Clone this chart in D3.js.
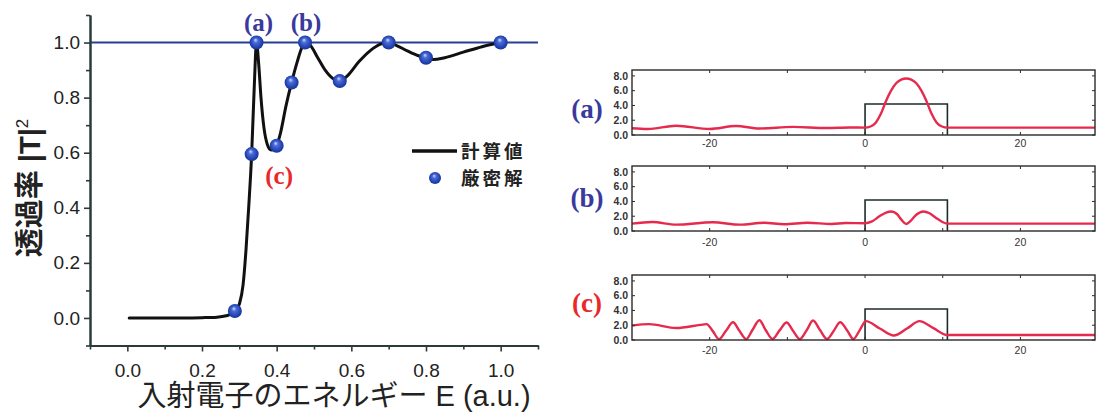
<!DOCTYPE html>
<html>
<head>
<meta charset="utf-8">
<script src="https://cdn.jsdelivr.net/npm/d3@7"></script>
<style>
  body { margin: 0; background: #fff; }
  svg { display: block; }
</style>
</head>
<body>
<svg id="chart" width="1097" height="414"></svg>
<script>
// ---- Transmission |T|^2 versus incident electron energy ----
const energyCurve = [0.005, 0.05, 0.10, 0.15, 0.20, 0.24, 0.265, 0.28, 0.29, 0.30, 0.31, 0.318, 0.325, 0.333, 0.340, 0.346,
  0.352, 0.358, 0.366, 0.375, 0.385, 0.394, 0.40, 0.41, 0.425, 0.44, 0.455, 0.467, 0.478, 0.49, 0.51, 0.53, 0.55, 0.569,
  0.59, 0.62, 0.65, 0.68, 0.70, 0.72, 0.75, 0.78, 0.80, 0.82, 0.85, 0.90, 0.95, 1.00];
const transCurve = [0, 0, 0, 0, 0.001, 0.003, 0.008, 0.015, 0.025, 0.05, 0.12, 0.25, 0.40, 0.595, 0.84, 1.0,
  0.92, 0.80, 0.69, 0.63, 0.61, 0.612, 0.625, 0.67, 0.77, 0.855, 0.93, 0.98, 1.0, 0.99, 0.945, 0.90, 0.87, 0.86,
  0.88, 0.93, 0.97, 0.995, 1.0, 0.99, 0.97, 0.952, 0.943, 0.938, 0.945, 0.965, 0.985, 1.0];

// exact solutions
const energyExact = [0.288, 0.333, 0.346, 0.40, 0.44, 0.476, 0.569, 0.70, 0.80, 1.00];
const transExact  = [0.025, 0.595, 1.0, 0.625, 0.855, 1.0, 0.86, 1.0, 0.945, 1.0];

const majorTicks = [0.0, 0.2, 0.4, 0.6, 0.8, 1.0];
const minorTicks = [-0.1, 0.1, 0.3, 0.5, 0.7, 0.9, 1.1];
const refLevel = 1.0;

const legendNames = ["計算値", "厳密解"];
const caseNames = ["(a)", "(b)", "(c)"];
const caseEnergy = [0.346, 0.476, 0.40];
const caseTrans  = [1.0, 1.0, 0.625];

// ---- Probability density |psi(x)|^2 for the three cases ----
const posA  = [-30, -28, -24.3, -20, -16.6, -13.6, -9.3, -5, -2, 0, 0.7, 1.4, 2.05, 2.7, 3.35, 4.0, 4.65, 5.3,
  5.95, 6.6, 7.25, 7.9, 8.55, 9.2, 9.9, 10.6, 15, 20, 29.6];
const densA = [0.92, 0.82, 1.25, 0.82, 1.22, 0.88, 1.1, 0.95, 1.02, 1.0, 1.15, 1.7, 2.9, 4.6, 6.0, 7.0, 7.5, 7.65,
  7.5, 7.0, 6.0, 4.6, 2.9, 1.7, 1.15, 1.0, 1.0, 1.0, 1.0];

const posB  = [-30, -27.4, -24.3, -19.6, -16.1, -13, -10.4, -7.4, -4.3, -2.5, 0, 0.9, 1.8, 2.7, 3.4, 4.1, 4.7, 5.3,
  5.9, 6.6, 7.5, 8.3, 9.1, 9.9, 10.6, 15, 20, 29.6];
const densB = [1.0, 1.22, 0.86, 1.18, 0.86, 1.12, 0.92, 1.12, 0.95, 1.08, 1.05, 1.3, 1.95, 2.5, 2.65, 2.3, 1.5, 0.95,
  1.4, 2.2, 2.65, 2.4, 1.8, 1.25, 1.0, 1.0, 1.0, 1.0];

const posC  = [-30, -27.8, -24.3, -21.2, -20.4, -19.6, -18.8, -17.9, -17.0, -16.2, -15.3, -14.5, -13.6, -12.8, -11.9, -11.0,
  -10.1, -9.3, -8.4, -7.5, -6.7, -5.8, -4.9, -4.0, -3.2, -2.3, -1.5, -0.7, 0.1, 1.9, 3.7, 5.4, 7.0, 8.8, 10.6, 15, 20, 29.6];
const densC = [1.95, 2.15, 1.62, 2.05, 2.15, 1.2, 0.12, 1.25, 2.4, 1.3, 0.12, 1.35, 2.68, 1.35, 0.14, 1.3,
  2.36, 1.3, 0.12, 1.35, 2.64, 1.35, 0.14, 1.3, 2.4, 1.3, 0.14, 1.3, 2.55, 1.55, 0.6, 1.55, 2.55, 1.6, 0.68, 0.68, 0.68, 0.68];

const barrierPos = [0, 0, 10.6, 10.6];
const barrierPot = [0, 4.2, 4.2, 0];

const panelXTicks = [-20, -10, 0, 10, 20];
const panelXLabels = [-20, 0, 20];
const panelYTicks = [0, 2, 4, 6, 8];

const svg = d3.select("#chart");
const latin = "'Liberation Sans', Arial, 'Noto Sans CJK JP', sans-serif";
const axisColor = "#2d3a3a";

const defs = svg.append("defs");
const grad = defs.append("radialGradient").attr("id", "ball")
  .attr("cx", "50%").attr("cy", "50%").attr("r", "55%").attr("fx", "42%").attr("fy", "30%");
grad.append("stop").attr("offset", "0").attr("stop-color", "#d4defc");
grad.append("stop").attr("offset", "0.3").attr("stop-color", "#4a6ad6");
grad.append("stop").attr("offset", "0.75").attr("stop-color", "#2143b2");
grad.append("stop").attr("offset", "1").attr("stop-color", "#152d86");

// ================= left chart =================
const x = d3.scaleLinear().domain([-0.1, 1.1]).range([90, 538]);
const y = d3.scaleLinear().domain([-0.1, 1.1]).range([345.5, 15]);

const gL = svg.append("g");

// reference line at |T|^2 = 1
gL.append("line")
  .attr("x1", x(-0.1)).attr("x2", x(1.1))
  .attr("y1", y(refLevel)).attr("y2", y(refLevel))
  .attr("stroke", "#283f98").attr("stroke-width", 2);

function styleAxis(g) {
  g.select(".domain").attr("stroke", axisColor).attr("stroke-width", 2);
  g.selectAll(".tick line").attr("stroke", axisColor).attr("stroke-width", 1.6);
  g.selectAll(".tick text").attr("fill", "#222").attr("font-family", latin).attr("font-size", 19);
}

// x axis: minor ticks, then labelled major ticks
gL.append("g").attr("transform", `translate(0,${y(-0.1)})`)
  .call(d3.axisBottom(x).tickValues(minorTicks).tickSize(4).tickSizeOuter(0).tickFormat(""))
  .call(styleAxis);
gL.append("g").attr("transform", `translate(0,${y(-0.1)})`)
  .call(d3.axisBottom(x).tickValues(majorTicks).tickSize(6).tickSizeOuter(0).tickPadding(12).tickFormat(d3.format(".1f")))
  .call(styleAxis);

gL.append("g").attr("transform", `translate(${x(-0.1)},0)`)
  .call(d3.axisLeft(y).tickValues(minorTicks).tickSize(4).tickSizeOuter(0).tickFormat(""))
  .call(styleAxis);
gL.append("g").attr("transform", `translate(${x(-0.1)},0)`)
  .call(d3.axisLeft(y).tickValues(majorTicks).tickSize(6).tickSizeOuter(0).tickPadding(4).tickFormat(d3.format(".1f")))
  .call(styleAxis);

// computed curve
const curvePts = energyCurve.map((e, i) => [e, transCurve[i]]);
gL.append("path")
  .datum(curvePts)
  .attr("d", d3.line().x(d => x(d[0])).y(d => y(d[1])).curve(d3.curveMonotoneX))
  .attr("fill", "none").attr("stroke", "#111").attr("stroke-width", 3)
  .attr("stroke-linejoin", "round").attr("stroke-linecap", "round");

// exact points
gL.selectAll("circle.exact")
  .data(energyExact.map((e, i) => [e, transExact[i]]))
  .join("circle").attr("class", "exact")
  .attr("cx", d => x(d[0])).attr("cy", d => y(d[1])).attr("r", 7)
  .attr("fill", "url(#ball)");

// case labels on the curve
const caseDx = [2, 1, 2.5];
const caseDy = [-12, -12, 38];
const caseColor = ["#3a3a9c", "#3a3a9c", "#e8282b"];
caseNames.forEach((name, i) => {
  gL.append("text")
    .attr("x", x(caseEnergy[i]) + caseDx[i])
    .attr("y", y(caseTrans[i]) + caseDy[i])
    .attr("text-anchor", "middle")
    .attr("font-family", "'Liberation Serif', 'Times New Roman', serif")
    .attr("font-weight", "bold").attr("font-size", 25)
    .attr("fill", caseColor[i])
    .text(name);
});

// axis titles
gL.append("text")
  .attr("x", 334).attr("y", 406)
  .attr("text-anchor", "middle")
  .attr("font-family", latin).attr("font-size", 29).attr("fill", "#222")
  .text("入射電子のエネルギー E (a.u.)");

const yTitle = gL.append("text")
  .attr("transform", "translate(40,188) rotate(-90)")
  .attr("text-anchor", "middle")
  .attr("font-family", latin).attr("font-size", 29).attr("font-weight", "bold").attr("fill", "#222");
yTitle.append("tspan").text("透過率 |T|");
yTitle.append("tspan").attr("font-size", 17).attr("dy", -12).attr("font-weight", "normal").text("2");

// legend
const lg = gL.append("g");
lg.append("line").attr("x1", 412).attr("x2", 457).attr("y1", 151).attr("y2", 151)
  .attr("stroke", "#111").attr("stroke-width", 3.5);
lg.append("circle").attr("cx", 435).attr("cy", 178).attr("r", 6).attr("fill", "url(#ball)");
legendNames.forEach((t, i) => {
  lg.append("text").attr("x", 461).attr("y", 151 + i * 27).attr("dy", "0.36em")
    .attr("font-family", "'Noto Sans CJK JP', sans-serif").attr("font-weight", "bold")
    .attr("font-size", 18.5).attr("letter-spacing", 3).attr("fill", "#222").text(t);
});

// ================= right panels =================
const px = d3.scaleLinear().domain([-30, 29.6]).range([632, 1095]);
const panelTop = [70, 166, 275];
const panelH = 65;
const panelLabelY = [118, 207, 312];
const panelTickLabelY = [147, 246, 354];
const panelLabelColor = ["#3a3a9c", "#3a3a9c", "#e8282b"];
const panelData = [[posA, densA], [posB, densB], [posC, densC]];

panelData.forEach(([pos, dens], i) => {
  const top = panelTop[i];
  const py = d3.scaleLinear().domain([0, 8.8]).range([top + panelH, top]);
  const g = svg.append("g");

  // barrier outline
  g.append("path")
    .datum(barrierPos.map((p, k) => [p, barrierPot[k]]))
    .attr("d", d3.line().x(d => px(d[0])).y(d => py(d[1])))
    .attr("fill", "none").attr("stroke", "#1e2b2b").attr("stroke-width", 1.6);

  // density curve
  g.append("path")
    .datum(pos.map((p, k) => [p, dens[k]]))
    .attr("d", d3.line().x(d => px(d[0])).y(d => py(d[1])).curve(d3.curveMonotoneX))
    .attr("fill", "none").attr("stroke", "#e52a4e").attr("stroke-width", 2.4)
    .attr("stroke-linejoin", "round");

  // frame
  g.append("rect")
    .attr("x", px(-30)).attr("y", top)
    .attr("width", px(29.6) - px(-30)).attr("height", panelH)
    .attr("fill", "none").attr("stroke", "#2a2a2a").attr("stroke-width", 1.4);

  // inward ticks
  panelXTicks.forEach(t => {
    g.append("line").attr("x1", px(t)).attr("x2", px(t)).attr("y1", top).attr("y2", top + 3)
      .attr("stroke", "#2a2a2a").attr("stroke-width", 1);
    g.append("line").attr("x1", px(t)).attr("x2", px(t)).attr("y1", top + panelH).attr("y2", top + panelH - 3)
      .attr("stroke", "#2a2a2a").attr("stroke-width", 1);
  });
  panelYTicks.forEach(t => {
    g.append("line").attr("x1", px(-30)).attr("x2", px(-30) + 3).attr("y1", py(t)).attr("y2", py(t))
      .attr("stroke", "#2a2a2a").attr("stroke-width", 1);
    g.append("line").attr("x1", px(29.6)).attr("x2", px(29.6) - 3).attr("y1", py(t)).attr("y2", py(t))
      .attr("stroke", "#2a2a2a").attr("stroke-width", 1);
    g.append("text").attr("x", px(-30) - 4).attr("y", py(t)).attr("dy", "0.36em")
      .attr("text-anchor", "end").attr("font-family", latin).attr("font-size", 10.5)
      .attr("font-weight", "bold").attr("fill", "#333")
      .text(d3.format(".1f")(t));
  });
  panelXLabels.forEach(t => {
    g.append("text").attr("x", px(t)).attr("y", panelTickLabelY[i])
      .attr("text-anchor", "middle").attr("font-family", latin).attr("font-size", 10.5)
      .attr("fill", "#333").text(t < 0 ? "-" + Math.abs(t) : String(t));
  });

  g.append("text").attr("x", 587).attr("y", panelLabelY[i])
    .attr("text-anchor", "middle")
    .attr("font-family", "'Liberation Serif', 'Times New Roman', serif")
    .attr("font-weight", "bold").attr("font-size", 27)
    .attr("fill", panelLabelColor[i]).text(caseNames[i]);
});
</script>
</body>
</html>
